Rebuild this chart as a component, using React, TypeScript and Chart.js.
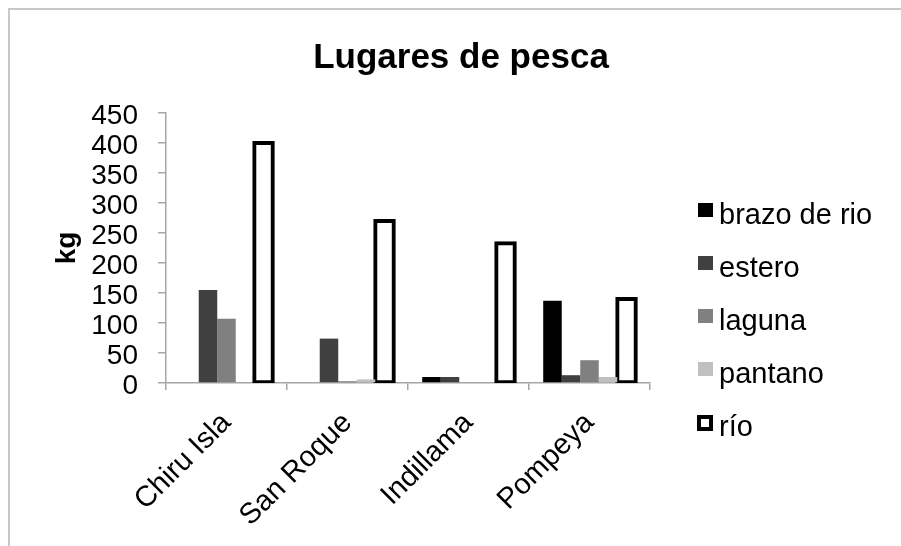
import React, { useEffect, useRef } from 'react';
import { Chart, registerables } from 'chart.js';

Chart.register(...registerables);

const categories = ['Chiru Isla', 'San Roque', 'Indillama', 'Pompeya'];
const seriesNames = ['brazo de rio', 'estero', 'laguna', 'pantano', 'río'];
const brazoDeRio = [0, 0, 10, 137];
const estero = [155, 74, 10, 13];
const laguna = [107, 3, 0, 38];
const pantano = [0, 6, 0, 10];
const rio = [400, 270, 233, 140];
const yMin = 0;
const yMax = 450;
const yStep = 50;
const chartTitle = 'Lugares de pesca';
const yTitle = 'kg';

const FONT = '"Liberation Sans", Arial, sans-serif';
const AXIS_GREY = '#a6a6a6';

const decorPlugin = {
  id: 'decor',
  afterDraw(chart: any) {
    const ctx = chart.ctx as CanvasRenderingContext2D;
    ctx.save();
    // outer frame (top and left visible)
    ctx.strokeStyle = '#c8c8c8';
    ctx.lineWidth = 2;
    ctx.beginPath();
    ctx.moveTo(9, 546);
    ctx.lineTo(9, 9);
    ctx.lineTo(901, 9);
    ctx.stroke();

    // title
    ctx.fillStyle = '#000';
    ctx.font = `bold 35px ${FONT}`;
    ctx.textAlign = 'center';
    ctx.textBaseline = 'alphabetic';
    ctx.fillText(chartTitle, 461, 68);

    // legend
    ctx.textAlign = 'left';
    ctx.font = `29px ${FONT}`;
    chart.data.datasets.forEach((ds: any, i: number) => {
      const top = 203 + i * 53;
      if (ds.borderWidth > 0) {
        ctx.fillStyle = '#fff';
        ctx.fillRect(699, top + 2, 12, 12);
        ctx.strokeStyle = '#000';
        ctx.lineWidth = 4;
        ctx.strokeRect(699, top + 2, 12, 12);
      } else {
        ctx.fillStyle = ds.backgroundColor;
        ctx.fillRect(698, top, 15, 14);
      }
      ctx.fillStyle = '#000';
      ctx.fillText(ds.label, 719, top + 21);
    });
    ctx.restore();
  },
};

export default function App() {
  const ref = useRef<HTMLCanvasElement | null>(null);

  useEffect(() => {
    if (!ref.current) return;
    const plain = { borderWidth: 0, categoryPercentage: 0.765, barPercentage: 1 };
    const chart = new Chart(ref.current, {
      type: 'bar',
      data: {
        labels: categories,
        datasets: [
          { label: seriesNames[0], data: brazoDeRio, backgroundColor: '#000000', ...plain },
          { label: seriesNames[1], data: estero, backgroundColor: '#404040', ...plain },
          { label: seriesNames[2], data: laguna, backgroundColor: '#808080', ...plain },
          { label: seriesNames[3], data: pantano, backgroundColor: '#c0c0c0', ...plain },
          {
            label: seriesNames[4],
            data: rio,
            backgroundColor: '#ffffff',
            borderColor: '#000000',
            borderWidth: 4,
            borderSkipped: false,
            inflateAmount: 2,
            categoryPercentage: 0.765,
            barPercentage: 1,
          } as any,
        ],
      },
      options: {
        responsive: false,
        animation: false,
        layout: { padding: { left: 50, right: 251, top: 113, bottom: 0 } },
        plugins: {
          legend: { display: false },
          title: { display: false },
          tooltip: { enabled: false },
        },
        scales: {
          x: {
            afterFit: (s: any) => {
              s.height = 163;
            },
            grid: {
              display: true,
              drawOnChartArea: false,
              drawTicks: true,
              tickLength: 7,
              color: AXIS_GREY,
              lineWidth: 1.5,
              offset: true,
            },
            border: { display: true, color: AXIS_GREY, width: 1.5 },
            ticks: {
              minRotation: 45,
              maxRotation: 45,
              autoSkip: false,
              padding: 16,
              color: '#000',
              font: { family: FONT, size: 29 },
            },
          },
          y: {
            min: yMin,
            max: yMax,
            afterFit: (s: any) => {
              s.width = 116;
            },
            grid: {
              display: true,
              drawOnChartArea: false,
              drawTicks: true,
              tickLength: 8,
              color: AXIS_GREY,
              lineWidth: 1.5,
            },
            border: { display: true, color: AXIS_GREY, width: 1.5 },
            ticks: {
              stepSize: yStep,
              autoSkip: false,
              padding: 20,
              labelOffset: 3,
              color: '#000',
              font: { family: FONT, size: 28 },
            },
            title: {
              display: true,
              text: yTitle,
              color: '#000',
              padding: { top: 0, bottom: 0 },
              font: { family: FONT, size: 28, weight: 'bold' },
            },
          },
        },
      },
      plugins: [decorPlugin],
    });
    return () => chart.destroy();
  }, []);

  return (
    <div style={{ position: 'absolute', left: 0, top: 0, width: 901, height: 546, background: '#fff' }}>
      <canvas ref={ref} width={901} height={546} style={{ display: 'block' }} />
    </div>
  );
}
